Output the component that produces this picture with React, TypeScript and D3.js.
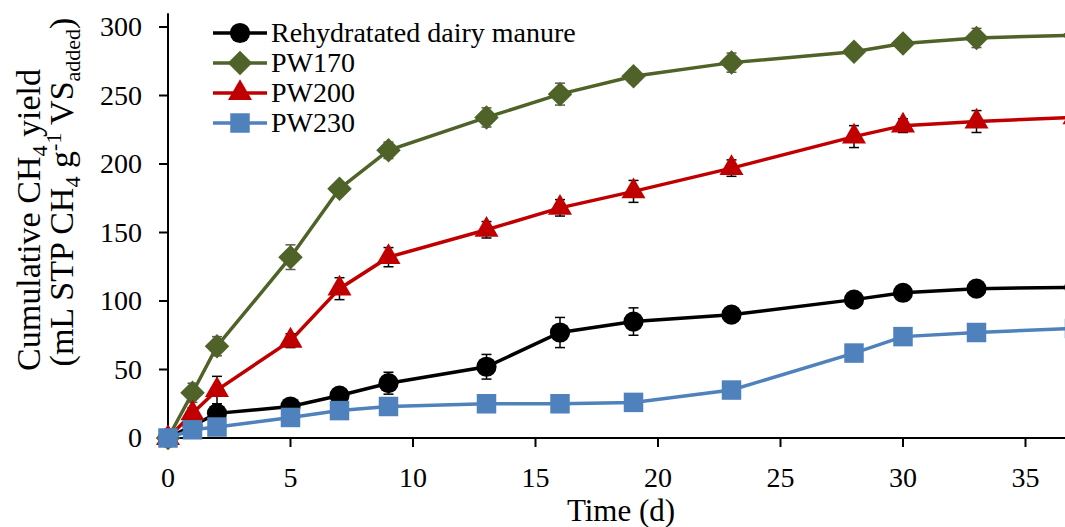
import * as d3 from 'd3'

const days = [0, 1, 2, 5, 7, 9, 13, 16, 19, 23, 28, 30, 33, 37]
const manure = [0, 9, 18, 23, 31, 40, 52, 77, 85, 90, 101, 106, 109, 110]
const manureErr = [0, 0, 3, 2, 2, 8, 9, 11, 10, 0, 0, 0, 0, 0]
const pw170 = [0, 33, 67, 132, 182, 210, 234, 251, 264, 274, 282, 288, 292, 294]
const pw170Err = [0, 7, 7, 9, 3, 6, 7, 8, 5, 7, 4, 4, 7, 0]
const pw200 = [0, 18, 35, 71, 109, 132, 152, 168, 180, 197, 220, 228, 231, 234]
const pw200Err = [0, 4, 10, 5, 8, 7, 6, 6, 8, 6, 8, 5, 8, 0]
const pw230 = [0, 6, 8, 15, 20, 23, 25, 25, 26, 35, 62, 74, 77, 80]
const pw230Err = [0, 2, 2, 2, 2, 2, 2, 2, 2, 2, 2, 2, 2, 0]

const xTicks = [0, 5, 10, 15, 20, 25, 30, 35]
const yTicks = [0, 50, 100, 150, 200, 250, 300]

type Series = {
  name: string
  values: number[]
  errors: number[]
  color: string
  errColor: string
  shape: 'circle' | 'diamond' | 'triangle' | 'square'
}

const series: Series[] = [
  { name: 'Rehydratated dairy manure', values: manure, errors: manureErr, color: '#000000', errColor: '#000000', shape: 'circle' },
  { name: 'PW170', values: pw170, errors: pw170Err, color: '#4F6228', errColor: '#595959', shape: 'diamond' },
  { name: 'PW200', values: pw200, errors: pw200Err, color: '#C00000', errColor: '#000000', shape: 'triangle' },
  { name: 'PW230', values: pw230, errors: pw230Err, color: '#4F81BD', errColor: '#4F81BD', shape: 'square' },
]

const W = 1065
const H = 527
const font = '"Liberation Serif", "Times New Roman", serif'

const x = d3.scaleLinear().domain([0, 40]).range([168, 1148])
const y = d3.scaleLinear().domain([0, 310]).range([438, 13.3])

const markerPath = (shape: Series['shape']) => {
  if (shape === 'circle') return d3.symbol(d3.symbolCircle, 320)() || ''
  if (shape === 'square') return d3.symbol(d3.symbolSquare, 380)() || ''
  if (shape === 'triangle') return d3.symbol(d3.symbolTriangle, 250)() || ''
  return d3.symbol(d3.symbolSquare, 300)() || ''
}

const Marker = ({ s, cx, cy }: { s: Series; cx: number; cy: number }) => (
  <path
    d={markerPath(s.shape)}
    fill={s.color}
    transform={`translate(${cx},${cy})${s.shape === 'diamond' ? ' rotate(45)' : ''}`}
  />
)

export default function App() {
  const line = d3
    .line<number>()
    .x((_, i) => x(days[i]))
    .y((v) => y(v))

  return (
    <svg width={W} height={H} style={{ position: 'absolute', left: 0, top: 0, background: '#fff' }} fontFamily={font}>
      {/* axes */}
      <line x1={x(0)} x2={x(40)} y1={y(0)} y2={y(0)} stroke="#000" strokeWidth={2} />
      <line x1={x(0)} x2={x(0)} y1={y(0)} y2={y(310)} stroke="#000" strokeWidth={2} />
      {xTicks.map((t) => (
        <g key={'x' + t}>
          <line x1={x(t)} x2={x(t)} y1={y(0)} y2={y(0) + 9} stroke="#000" strokeWidth={2} />
          <text x={x(t)} y={487} fontSize={28} textAnchor="middle">
            {t}
          </text>
        </g>
      ))}
      {yTicks.map((t) => (
        <g key={'y' + t}>
          <line x1={x(0) - 9} x2={x(0)} y1={y(t)} y2={y(t)} stroke="#000" strokeWidth={2} />
          <text x={142} y={y(t) + 9} fontSize={28} textAnchor="end">
            {t}
          </text>
        </g>
      ))}
      <text x={621} y={521} fontSize={31} textAnchor="middle">
        Time (d)
      </text>
      <text transform="translate(40,220) rotate(-90)" fontSize={34} textAnchor="middle">
        Cumulative CH<tspan fontSize={22} dy={7}>4</tspan>
        <tspan dy={-7}> yield</tspan>
      </text>
      <text transform="translate(73,192) rotate(-90)" fontSize={34} textAnchor="middle">
        (mL STP CH<tspan fontSize={22} dy={7}>4</tspan>
        <tspan dy={-7}> g</tspan>
        <tspan fontSize={22} dy={-12}>-1</tspan>
        <tspan dy={12}> VS</tspan>
        <tspan fontSize={22} dy={7}>added</tspan>
        <tspan dy={-7}>)</tspan>
      </text>

      {/* series */}
      {series.map((s) => (
        <g key={s.name}>
          <path d={line(s.values) || ''} fill="none" stroke={s.color} strokeWidth={3.5} />
          {s.values.map((v, i) =>
            s.errors[i] > 0 ? (
              <g key={i} stroke={s.errColor} strokeWidth={1.5}>
                <line x1={x(days[i])} x2={x(days[i])} y1={y(v - s.errors[i])} y2={y(v + s.errors[i])} />
                <line x1={x(days[i]) - 5} x2={x(days[i]) + 5} y1={y(v - s.errors[i])} y2={y(v - s.errors[i])} />
                <line x1={x(days[i]) - 5} x2={x(days[i]) + 5} y1={y(v + s.errors[i])} y2={y(v + s.errors[i])} />
              </g>
            ) : null
          )}
          {s.values.map((v, i) => (
            <Marker key={'m' + i} s={s} cx={x(days[i])} cy={y(v)} />
          ))}
        </g>
      ))}

      {/* legend */}
      {series.map((s, i) => {
        const ly = 33 + i * 30
        return (
          <g key={'lg' + s.name}>
            <line x1={213} x2={267} y1={ly} y2={ly} stroke={s.color} strokeWidth={3.5} />
            <Marker s={s} cx={240} cy={ly} />
            <text x={271} y={ly + 9} fontSize={28}>
              {s.name}
            </text>
          </g>
        )
      })}
    </svg>
  )
}
